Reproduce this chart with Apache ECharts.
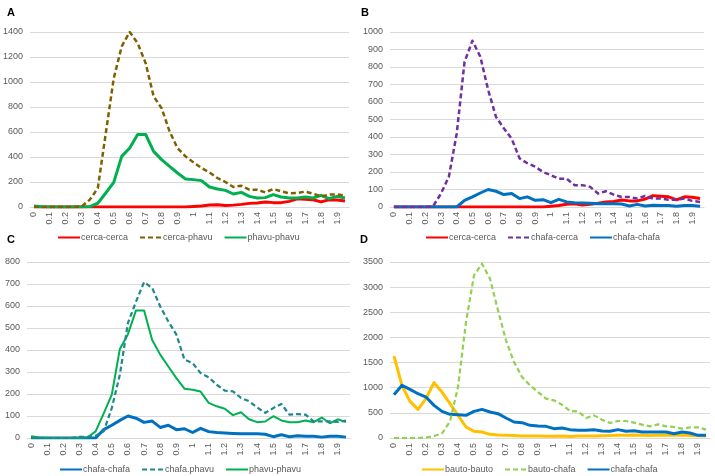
<!DOCTYPE html>
<html>
<head>
<meta charset="utf-8">
<script src="https://cdn.jsdelivr.net/npm/echarts@6/dist/echarts.min.js"></script>
<style>
  html, body { margin: 0; padding: 0; background: #fff; }
  #main { width: 715px; height: 476px; }
</style>
</head>
<body>
<div id="main"></div>
<script>
var cats = ['0','0.05','0.1','0.15','0.2','0.25','0.3','0.35','0.4','0.45',
            '0.5','0.55','0.6','0.65','0.7','0.75','0.8','0.85','0.9','0.95',
            '1','1.05','1.1','1.15','1.2','1.25','1.3','1.35','1.4','1.45',
            '1.5','1.55','1.6','1.65','1.7','1.75','1.8','1.85','1.9','1.95'];

// A / B / C
var cercaCerca = [0,0,0,0,0,0,0,0,0,0, 0,0,0,0,0,0,0,0,0,0,
                  4,8,16,18,12,15,21,29,32,40, 35,35,45,65,62,58,41,58,56,48];
var cercaPhavu = [0,0,0,0,0,0,5,59,150,590, 1030,1285,1400,1310,1150,885,790,605,470,405,
                  357,312,277,232,200,160,170,139,139,117, 144,125,109,112,123,107,85,99,101,91];
var phavuPhavu = [8,2,0,0,0,0,1,3,30,112, 197,405,472,580,580,445,379,325,272,224,
                  219,211,160,144,133,104,117,85,72,75, 99,80,72,72,80,72,93,67,85,72];
var chafaCerca = [0,0,0,0,0,5,77,173,420,830, 950,860,670,515,450,390,278,250,230,200,
                  182,162,162,125,125,115,77,90,71,57, 57,48,63,48,48,42,42,48,35,29];
var chafaChafa = [0,0,0,0,0,0,0,0,0,38, 58,80,100,90,71,77,48,58,38,42,
                  25,44,29,25,23,21,19,19,19,17, 6,15,6,10,8,8,4,8,8,4];
var chafaPhavu = [0,0,0,0,0,0,5,5,10,30, 136,288,523,620,709,682,598,530,470,356,
                  341,295,276,242,215,212,182,167,139,114, 136,155,106,109,106,76,76,76,73,79];

// D
var bautoBauto = [1630,1040,729,570,782,1100,914,683,450,219, 133,119,73,60,55,48,42,38,42,36,
                  35,40,32,40,40,42,45,50,55,55, 58,55,50,55,60,55,60,52,45,40];
var bautoChafa = [0,0,0,0,10,40,90,330,1014,2306, 3234,3466,3168,2538,1942,1511,1213,1047,914,782,
                  749,663,537,530,398,450,364,298,338,338, 305,265,232,272,232,219,186,212,212,166];
var chafaChafaD = [862,1047,968,881,815,649,530,470,464,450, 530,570,517,484,398,318,305,252,239,232,
                   186,199,166,152,152,166,139,133,166,133, 146,119,119,119,119,86,119,99,53,53];

var myChart = echarts.init(document.getElementById('main'));

var fontFam = '"Liberation Sans", Arial, sans-serif';
var grids = [
  {left: 29, top: 32, width: 320, height: 175},
  {left: 390, top: 32, width: 314, height: 175},
  {left: 27, top: 262, width: 323, height: 176},
  {left: 390, top: 262, width: 320, height: 176}
];
var yMax = [1400, 1000, 800, 3500];
var yStep = [200, 100, 100, 500];

function xAxisFor(idx) {
  return {
    gridIndex: idx,
    type: 'category',
    data: cats,
    boundaryGap: true,
    axisTick: {show: false},
    axisLine: {lineStyle: {color: '#d9d9d9'}},
    axisLabel: {interval: 1, rotate: 90, color: '#595959', fontSize: 9, fontFamily: fontFam, margin: 5}
  };
}
function yAxisFor(idx) {
  return {
    gridIndex: idx,
    type: 'value',
    min: 0,
    max: yMax[idx],
    interval: yStep[idx],
    axisLine: {show: false},
    axisTick: {show: false},
    splitLine: {lineStyle: {color: '#d9d9d9'}},
    axisLabel: {
      color: '#595959', fontSize: 9, fontFamily: fontFam, margin: 7,
      formatter: function (v) { return String(v); }
    }
  };
}
function line(name, data, idx, color, width, dashed) {
  return {
    name: name,
    type: 'line',
    xAxisIndex: idx,
    yAxisIndex: idx,
    data: data,
    symbol: 'none',
    color: color,
    lineStyle: {color: color, width: width, type: dashed ? [5, 3] : 'solid', join: 'round'},
    z: dashed ? 3 : 2
  };
}
function legendFor(items, left, top) {
  return {
    data: items,
    left: left,
    top: top,
    itemWidth: 22,
    itemHeight: 6,
    itemGap: 11,
    itemStyle: {opacity: 0},
    textStyle: {color: '#595959', fontSize: 9, fontFamily: fontFam, padding: [0, 0, 0, -4]},
    selectedMode: false
  };
}

var option = {
  animation: false,
  backgroundColor: '#ffffff',
  title: [
    {text: 'A', left: 2, top: 2},
    {text: 'B', left: 356, top: 2},
    {text: 'C', left: 2, top: 229},
    {text: 'D', left: 355, top: 229}
  ].map(function (t) {
    t.textStyle = {fontSize: 11, fontWeight: 'bold', color: '#000', fontFamily: fontFam};
    return t;
  }),
  grid: grids,
  xAxis: [xAxisFor(0), xAxisFor(1), xAxisFor(2), xAxisFor(3)],
  yAxis: [yAxisFor(0), yAxisFor(1), yAxisFor(2), yAxisFor(3)],
  legend: [
    legendFor(['cerca-cerca', 'cerca-phavu', 'phavu-phavu'], 52, 228),
    legendFor(['cerca-cerca', 'chafa-cerca', 'chafa-chafa'], 420, 228),
    legendFor(['chafa-chafa', 'chafa.phavu', 'phavu-phavu'], 54, 460),
    legendFor(['bauto-bauto', 'bauto-chafa', 'chafa-chafa'], 416, 460)
  ],
  series: [
    line('cerca-cerca', cercaCerca, 0, '#ff0000', 3, false),
    line('cerca-phavu', cercaPhavu, 0, '#7f6000', 2.5, true),
    line('phavu-phavu', phavuPhavu, 0, '#00b050', 3, false),

    line('cerca-cerca', cercaCerca, 1, '#ff0000', 3, false),
    line('chafa-cerca', chafaCerca, 1, '#7030a0', 2.5, true),
    line('chafa-chafa', chafaChafa, 1, '#0070c0', 3, false),

    line('chafa-chafa', chafaChafa, 2, '#0070c0', 3, false),
    line('chafa.phavu', chafaPhavu, 2, '#1f8790', 2.2, true),
    line('phavu-phavu', phavuPhavu, 2, '#00b050', 2, false),

    line('bauto-bauto', bautoBauto, 3, '#ffc000', 3, false),
    line('bauto-chafa', bautoChafa, 3, '#92d050', 2.2, true),
    line('chafa-chafa', chafaChafaD, 3, '#0070c0', 3, false)
  ]
};
myChart.setOption(option);
</script>
</body>
</html>
